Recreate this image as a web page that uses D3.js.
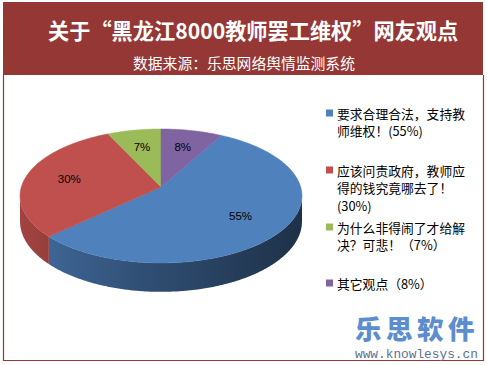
<!DOCTYPE html>
<html><head><meta charset="utf-8">
<script src="https://cdn.jsdelivr.net/npm/d3@7/dist/d3.min.js"></script>
<style>html,body{margin:0;padding:0;background:#fff;}svg{display:block;}</style>
</head><body><svg id="c" width="487" height="365"></svg>
<script>
const title = "关于“黑龙江8000教师罢工维权”网友观点";
const subtitle = "数据来源：乐思网络舆情监测系统";
const categories = ["要求合理合法，支持教师维权！", "应该问责政府，教师应得的钱究竟哪去了！", "为什么非得闹了才给解决？可悲！", "其它观点"];
const values = [55, 30, 7, 8];
const sliceLabels = ["55%", "30%", "7%", "8%"];
const legendLines = [
  ["要求合理合法，支持教", "师维权！(55%)"],
  ["应该问责政府，教师应", "得的钱究竟哪去了！", "(30%)"],
  ["为什么非得闹了才给解", "决？可悲！（7%）"],
  ["其它观点（8%）"]
];
const colors = ["#4F81BD", "#C0504D", "#9BBB59", "#8064A2"];

const svg = d3.select("#c");
const frame = "#953735";
svg.append("rect").attr("x",3).attr("y",2).attr("width",480).attr("height",73).attr("fill",frame);
svg.append("path").attr("d","M3.5,75 V360.5 H483.5 V75").attr("fill","none").attr("stroke",frame).attr("stroke-width",1.2);

svg.append("text").attr("x",48).attr("y",29).attr("dominant-baseline","central")
  .attr("font-family","'Noto Sans CJK SC'").attr("font-weight","bold").attr("font-size",21.2)
  .attr("fill","#fff").text(title);
svg.append("text").attr("x",133).attr("y",62).attr("dominant-baseline","central")
  .attr("font-family","'Noto Sans CJK SC'").attr("font-size",14.8)
  .attr("fill","#fff").text(subtitle);

// 3D pie with perspective projection
const cx = 161, cy0 = 187, R = 139.7, B = 65.8, persp = 0.134, D = 25;
function proj(a, f, drop) {
  const X = f*Math.sin(a), U = -f*Math.cos(a);
  const den = 1 - persp*U;
  return [cx + R*X/den, cy0 + B*U/den + (drop ? D/den : 0)];
}
const pie = d3.pie().sort(null).startAngle(0.08*2*Math.PI).endAngle(0.08*2*Math.PI + 2*Math.PI);
const arcs = pie(values);
const line = d3.line();
function arcPts(a0, a1, drop) {
  const n = Math.max(2, Math.ceil((a1-a0)/0.01));
  return d3.range(n+1).map(i => proj(a0 + (a1-a0)*i/n, 1, drop));
}
const defs = svg.append("defs");
colors.forEach((c,i)=>{
  const g = defs.append("linearGradient").attr("id","g"+i).attr("gradientUnits","userSpaceOnUse")
    .attr("x1",20).attr("x2",302).attr("y1",0).attr("y2",0);
  g.append("stop").attr("offset",0).attr("stop-color",d3.color(c).darker(0.5));
  g.append("stop").attr("offset",0.45).attr("stop-color",d3.color(c).darker(1.4));
  g.append("stop").attr("offset",1).attr("stop-color",d3.color(c).darker(2.7));
});
const visL = Math.acos(-persp), visR = 2*Math.PI - Math.acos(-persp);
arcs.forEach((d,i)=>{
  let s = d.startAngle, e = d.endAngle;
  [0, 2*Math.PI].forEach(off=>{
    const ss = Math.max(s-off, visL), ee = Math.min(e-off, visR);
    if (ee > ss) {
      const pts = arcPts(ss, ee, false).concat(arcPts(ss, ee, true).reverse());
      svg.append("path").attr("d", line(pts)+"Z").attr("fill","url(#g"+i+")");
    }
  });
});
arcs.forEach((d,i)=>{
  const pts = [proj(0,0,false)].concat(arcPts(d.startAngle, d.endAngle, false));
  svg.append("path").attr("d", line(pts)+"Z").attr("fill", colors[i])
    .attr("stroke", colors[i]).attr("stroke-width",0.5);
});
arcs.forEach((d,i)=>{
  const p = proj((d.startAngle+d.endAngle)/2, 0.68, false);
  svg.append("text").attr("x",p[0]).attr("y",p[1]).attr("text-anchor","middle").attr("dominant-baseline","central")
    .attr("font-family","'Liberation Sans'").attr("font-size",11.5).attr("fill","#000").text(sliceLabels[i]);
});

// legend
const legTop = [113, 170, 227, 283];
legendLines.forEach((lines,i)=>{
  svg.append("rect").attr("x",326).attr("y",legTop[i]-3.5).attr("width",7).attr("height",7).attr("fill",colors[i]);
  lines.forEach((t,j)=>{
    svg.append("text").attr("x",337).attr("y",legTop[i]+j*17.5).attr("dominant-baseline","central")
      .attr("font-family","'Noto Sans CJK SC'").attr("font-size",12.8).attr("fill","#000").text(t);
  });
});

// logo
svg.append("text").attr("x",355).attr("y",327.5).attr("dominant-baseline","central")
  .attr("font-family","'Noto Sans CJK SC'").attr("font-weight","900").attr("font-size",26.5)
  .attr("letter-spacing",4.5)
  .attr("fill","#5b8dcf").text("乐思软件");
svg.append("text").attr("x",355).attr("y",358)
  .attr("font-family","'Liberation Mono'").attr("font-size",12.8)
  .attr("fill","#5d6f8f").text("www.knowlesys.cn");
</script></body></html>
